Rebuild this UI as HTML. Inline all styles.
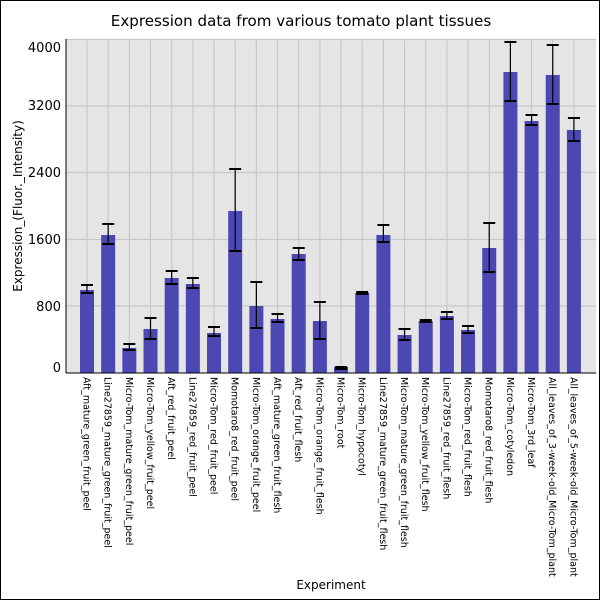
<!DOCTYPE html>
<html><head><meta charset="utf-8"><style>body{margin:0;background:#fff}svg{display:block}text{font-family:"DejaVu Sans","Liberation Sans",sans-serif;fill:#000}</style></head>
<body>
<svg width="600" height="600" viewBox="0 0 600 600" xmlns="http://www.w3.org/2000/svg">
<rect x="0.5" y="0.5" width="599" height="599" fill="#fff" stroke="#000"/>
<text x="301" y="26" font-size="15.1" text-anchor="middle">Expression data from various tomato plant tissues</text>
<rect x="66" y="39" width="530" height="334" fill="#e5e5e5"/>
<g id="grid" stroke="#c8c8c8" stroke-width="1.2"></g>
<g id="bars"></g>
<line x1="66" y1="39" x2="66" y2="373" stroke="#000"/>
<line x1="66" y1="373" x2="596" y2="373" stroke="#000"/>
<g id="yt" font-size="13" text-anchor="end"></g>
<g id="xt" font-size="9.5"></g>
<text transform="translate(22,206) rotate(-90)" font-size="12" text-anchor="middle">Expression_(Fluor._Intensity)</text>
<text x="331" y="589" font-size="12" text-anchor="middle">Experiment</text>
</svg>
<script>
const ns="http://www.w3.org/2000/svg";
function el(t,a,p,txt){const e=document.createElementNS(ns,t);for(const k in a)e.setAttribute(k,a[k]);if(txt)e.textContent=txt;document.getElementById(p).appendChild(e);}
const labels=["Aft_mature_green_fruit_peel","Line27859_mature_green_fruit_peel","Micro-Tom_mature_green_fruit_peel","Micro-Tom_yellow_fruit_peel","Aft_red_fruit_peel","Line27859_red_fruit_peel","Micro-Tom_red_fruit_peel","Momotaro8_red_fruit_peel","Micro-Tom_orange_fruit_peel","Aft_mature_green_fruit_flesh","Aft_red_fruit_flesh","Micro-Tom_orange_fruit_flesh","Micro-Tom_root","Micro-Tom_hypocotyl","Line27859_mature_green_fruit_flesh","Micro-Tom_mature_green_fruit_flesh","Micro-Tom_yellow_fruit_flesh","Line27859_red_fruit_flesh","Micro-Tom_red_fruit_flesh","Momotaro8_red_fruit_flesh","Micro-Tom_cotyledon","Micro-Tom_3rd_leaf","All_leaves_of_3-week-old_Micro-Tom_plant","All_leaves_of_5-week-old_Micro-Tom_plant"];
const d=[[290,285,293],[235,224,244],[348,344,350],[329,318,339],[278,271,284],[284,278,288],[333,327,336],[211,169,251],[306,282,328],[319,314,322],[254,248,260],[321,302,339],[367,367,369],[293,292,294],[235,225,242],[335,329,340],[321,320,322],[316,312,319],[330,326,333],[248,223,272],[72,42,101],[121,115,125],[75,45,104],[130,118,141]];
[[4000,39.5],[3200,106],[2400,172.5],[1600,239.5],[800,306]].forEach(([v,y])=>{el("line",{x1:66,x2:596,y1:y,y2:y},"grid");});
[[4000,52],[3200,110],[2400,177],[1600,244],[800,311],[0,372]].forEach(([v,y])=>el("text",{x:61,y:y},"yt",String(v)));
d.forEach((b,i)=>{const c=87+i*21.17;
el("line",{x1:c,x2:c,y1:39,y2:373},"grid");
el("rect",{x:c-7,y:b[0],width:14,height:373-b[0],fill:"#4b47b3"},"bars");
el("line",{x1:c,x2:c,y1:b[1],y2:b[2],stroke:"#000","stroke-width":1.2},"bars");
el("line",{x1:c-6,x2:c+6,y1:b[1],y2:b[1],stroke:"#000","stroke-width":2},"bars");
el("line",{x1:c-6,x2:c+6,y1:b[2],y2:b[2],stroke:"#000","stroke-width":2},"bars");
el("text",{transform:`translate(${c-3.5},377) rotate(90)`},"xt",labels[i]);
});
</script>
</body></html>
